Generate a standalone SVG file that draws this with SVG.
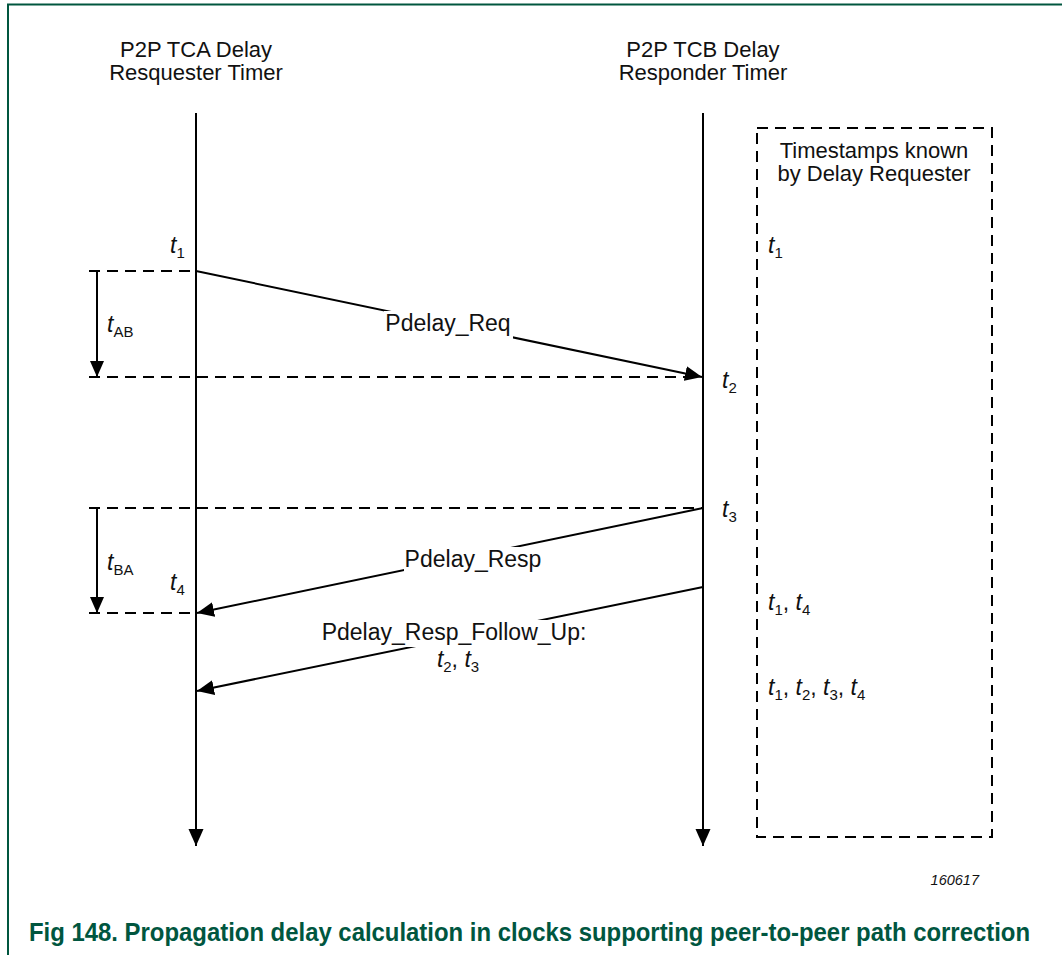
<svg xmlns="http://www.w3.org/2000/svg" width="1062" height="955" viewBox="0 0 1062 955">
<defs>
<style>
text{font-family:"Liberation Sans",Arial,sans-serif;fill:#111}
.lbl{font-size:23px}
.ttl{font-size:22px;text-anchor:middle}
.it{font-style:italic}
.sub{font-size:15px}
.line{stroke:#000;stroke-width:2;fill:none}
.dash{stroke:#000;stroke-width:2;fill:none;stroke-dasharray:11 7}
.bg{fill:#fff;stroke:none}
.cap{font-size:22px;font-weight:bold;fill:#00563f}
</style>
<marker id="ah" markerUnits="userSpaceOnUse" markerWidth="18" markerHeight="16" refX="17" refY="7.5" orient="auto"><path d="M0,0 L17,7.5 L0,15 z" fill="#000"/></marker>
<marker id="ahs" markerUnits="userSpaceOnUse" markerWidth="17" markerHeight="15" refX="16" refY="7" orient="auto"><path d="M0,0 L16,7 L0,14 z" fill="#000"/></marker>
</defs>
<g id="frame">
<path d="M8,955 V4.5 H1062" stroke="#00563f" stroke-width="2" fill="none"/>
</g>
<g id="requester">
<text class="ttl" x="196" y="57">P2P TCA Delay</text>
<text class="ttl" x="196" y="80">Resquester Timer</text>
<text class="lbl" x="170" y="253"><tspan class="it">t</tspan><tspan class="sub" dy="5">1</tspan></text>
<text class="lbl" x="170" y="590"><tspan class="it">t</tspan><tspan class="sub" dy="5">4</tspan></text>
<text class="lbl" x="107" y="332"><tspan class="it">t</tspan><tspan class="sub" dy="5">AB</tspan></text>
<text class="lbl" x="107" y="570"><tspan class="it">t</tspan><tspan class="sub" dy="5">BA</tspan></text>
</g>
<g id="responder">
<text class="ttl" x="703" y="57">P2P TCB Delay</text>
<text class="ttl" x="703" y="80">Responder Timer</text>
<text class="lbl" x="722" y="388"><tspan class="it">t</tspan><tspan class="sub" dy="5">2</tspan></text>
<text class="lbl" x="722" y="517"><tspan class="it">t</tspan><tspan class="sub" dy="5">3</tspan></text>
</g>
<g id="timestamps">
<rect x="757" y="128" width="235" height="709" class="dash"/>
<text class="ttl" x="874" y="158">Timestamps known</text>
<text class="ttl" x="874" y="181">by Delay Requester</text>
<text class="lbl" x="768" y="253"><tspan class="it">t</tspan><tspan class="sub" dy="5">1</tspan></text>
<text class="lbl" x="768" y="610"><tspan class="it">t</tspan><tspan class="sub" dy="5">1</tspan><tspan dy="-5">, </tspan><tspan class="it">t</tspan><tspan class="sub" dy="5">4</tspan></text>
<text class="lbl" x="768" y="695"><tspan class="it">t</tspan><tspan class="sub" dy="5">1</tspan><tspan dy="-5">, </tspan><tspan class="it">t</tspan><tspan class="sub" dy="5">2</tspan><tspan dy="-5">, </tspan><tspan class="it">t</tspan><tspan class="sub" dy="5">3</tspan><tspan dy="-5">, </tspan><tspan class="it">t</tspan><tspan class="sub" dy="5">4</tspan></text>
</g>
<g id="connectors">
<line class="line" x1="196" y1="113" x2="196" y2="846" marker-end="url(#ah)"/>
<line class="line" x1="703" y1="113" x2="703" y2="846" marker-end="url(#ah)"/>
<line class="dash" x1="89" y1="271" x2="196" y2="271"/>
<line class="dash" x1="89" y1="377" x2="690" y2="377"/>
<line class="dash" x1="89" y1="508" x2="703" y2="508"/>
<line class="dash" x1="89" y1="613" x2="196" y2="613"/>
<line class="line" x1="97" y1="271" x2="97" y2="377" marker-end="url(#ahs)"/>
<line class="line" x1="97" y1="508" x2="97" y2="613" marker-end="url(#ahs)"/>
<line class="line" x1="196" y1="271" x2="702" y2="377" marker-end="url(#ah)"/>
<line class="line" x1="703" y1="508" x2="197" y2="613" marker-end="url(#ah)"/>
<line class="line" x1="703" y1="587" x2="197" y2="691" marker-end="url(#ah)"/>
</g>
<g id="labels">
<rect class="bg" x="384" y="311" width="129" height="28"/>
<text class="lbl" x="448" y="331" text-anchor="middle">Pdelay_Req</text>
<rect class="bg" x="404" y="547" width="138" height="27"/>
<text class="lbl" x="473" y="567" text-anchor="middle">Pdelay_Resp</text>
<rect class="bg" x="322" y="620" width="264" height="27"/>
<text class="lbl" x="454" y="640" text-anchor="middle">Pdelay_Resp_Follow_Up:</text>
<text class="lbl" x="458" y="667" text-anchor="middle"><tspan class="it">t</tspan><tspan class="sub" dy="5">2</tspan><tspan dy="-5">, </tspan><tspan class="it">t</tspan><tspan class="sub" dy="5">3</tspan></text>
</g>
<g id="caption">
<text x="979" y="885" text-anchor="end" style="font-size:14.5px;font-style:italic">160617</text>
<g transform="translate(29,941) scale(1,1.15)">
<text class="cap" x="0" y="0" textLength="1001" lengthAdjust="spacingAndGlyphs">Fig 148. Propagation delay calculation in clocks supporting peer-to-peer path correction</text>
</g>
</g>
</svg>
